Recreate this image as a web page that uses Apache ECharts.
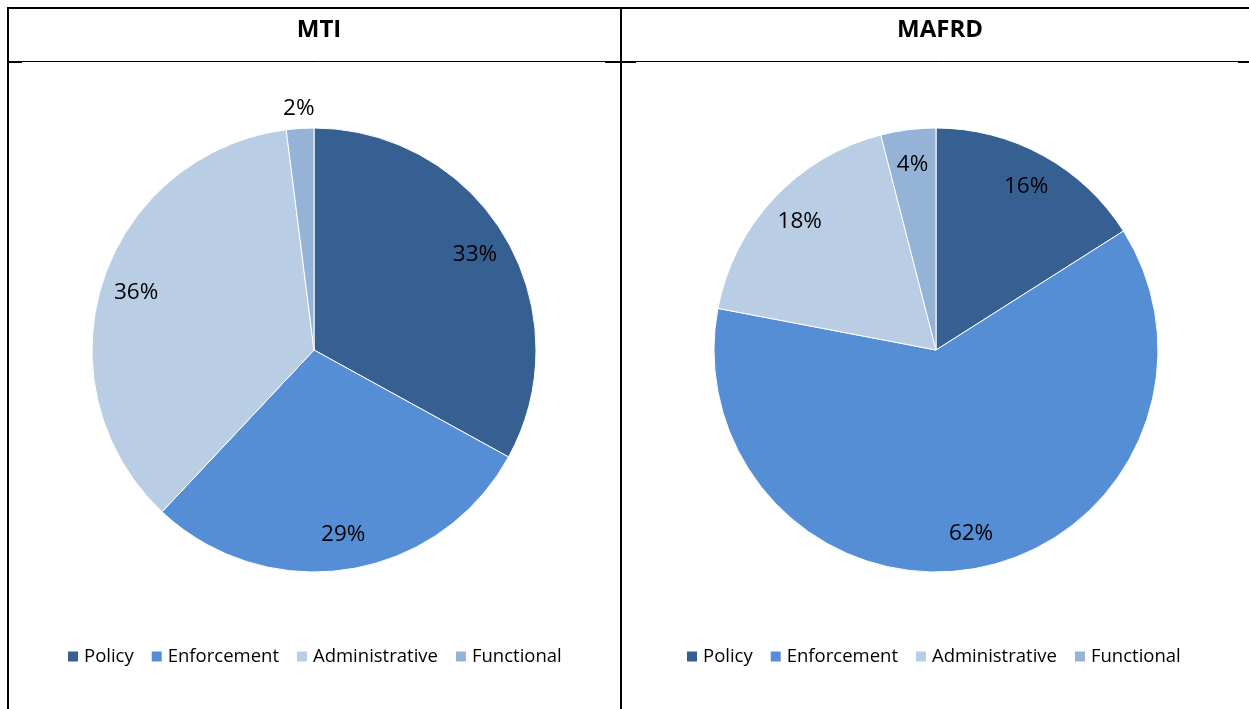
<!DOCTYPE html>
<html>
<head>
<meta charset="utf-8">
<script src="https://cdn.jsdelivr.net/npm/echarts@6/dist/echarts.min.js"></script>
<style>
  html, body { margin: 0; padding: 0; background: #fff; }
  #chart { width: 1249px; height: 709px; }
</style>
</head>
<body>
<div id="chart"></div>
<script>
var categories = ['Policy', 'Enforcement', 'Administrative', 'Functional'];
var colors = ['#376092', '#558ED5', '#B9CDE5', '#95B3D7'];
var mtiValues = [33, 29, 36, 2];
var mafrdValues = [16, 62, 18, 4];
var panelTitles = ['MTI', 'MAFRD'];

var FONT = 'Open Sans';
var R = 222;

function pctLabel(p) {
    return Math.round(p.percent) + '%';
}

// solid pie + transparent ring carrying the labels (inside / just outside)
function pieSeries(values, cx) {
    var solid = {
        type: 'pie',
        center: [cx, 350],
        radius: [0, R],
        startAngle: 90,
        label: {show: false},
        labelLine: {show: false},
        itemStyle: {borderColor: '#fff', borderWidth: 1},
        emphasis: {disabled: true},
        data: categories.map(function (c, i) {
            return {name: c, value: values[i], itemStyle: {color: colors[i]}};
        })
    };
    var total = values.reduce(function (a, b) { return a + b; }, 0);
    function ring(r0, r1, outer) {
        return {
            type: 'pie',
            center: [cx, 350],
            radius: [r0, r1],
            startAngle: 90,
            silent: true,
            emphasis: {disabled: true},
            labelLine: {show: false},
            itemStyle: {color: 'rgba(0,0,0,0)'},
            data: categories.map(function (c, i) {
                var small = values[i] / total < 0.03;
                return {
                    name: c,
                    value: values[i],
                    label: {
                        show: outer ? small : !small,
                        position: 'inside',
                        formatter: pctLabel,
                        color: '#000',
                        fontFamily: FONT,
                        fontSize: 22.5
                    }
                };
            })
        };
    }
    return [solid, ring(146, R, false), ring(R, R + 34, true)];
}

function legendAt(left) {
    return {
        left: left,
        top: 642,
        itemWidth: 12,
        itemHeight: 12,
        itemGap: 16,
        icon: 'rect',
        textStyle: {fontFamily: FONT, fontSize: 18.5, color: '#000'},
        data: categories
    };
}

function hline(x1, x2, y, w) {
    return {type: 'line', shape: {x1: x1, y1: y, x2: x2, y2: y}, style: {stroke: '#000', lineWidth: w}};
}
function vline(x, y1, y2, w) {
    return {type: 'line', shape: {x1: x, y1: y1, x2: x, y2: y2}, style: {stroke: '#000', lineWidth: w}};
}

var chart = echarts.init(document.getElementById('chart'));

var option = {
    animation: false,
    backgroundColor: '#fff',
    title: [
        {text: panelTitles[0], left: 314, top: 13, textAlign: 'center',
         textStyle: {fontFamily: FONT, fontSize: 24, fontWeight: 'bold', color: '#000'}},
        {text: panelTitles[1], left: 935, top: 13, textAlign: 'center',
         textStyle: {fontFamily: FONT, fontSize: 24, fontWeight: 'bold', color: '#000'}}
    ],
    legend: [legendAt(61), legendAt(680)],
    graphic: [
        hline(7, 1249, 8, 2),
        vline(8, 7, 709, 2),
        vline(621, 7, 709, 2),
        hline(8, 1249, 61.5, 1),
        hline(8, 22, 62, 2),
        hline(605, 636, 62, 2),
        hline(1238, 1249, 62, 2)
    ],
    series: pieSeries(mtiValues, 314).concat(pieSeries(mafrdValues, 936))
};

chart.setOption(option);
</script>
</body>
</html>
